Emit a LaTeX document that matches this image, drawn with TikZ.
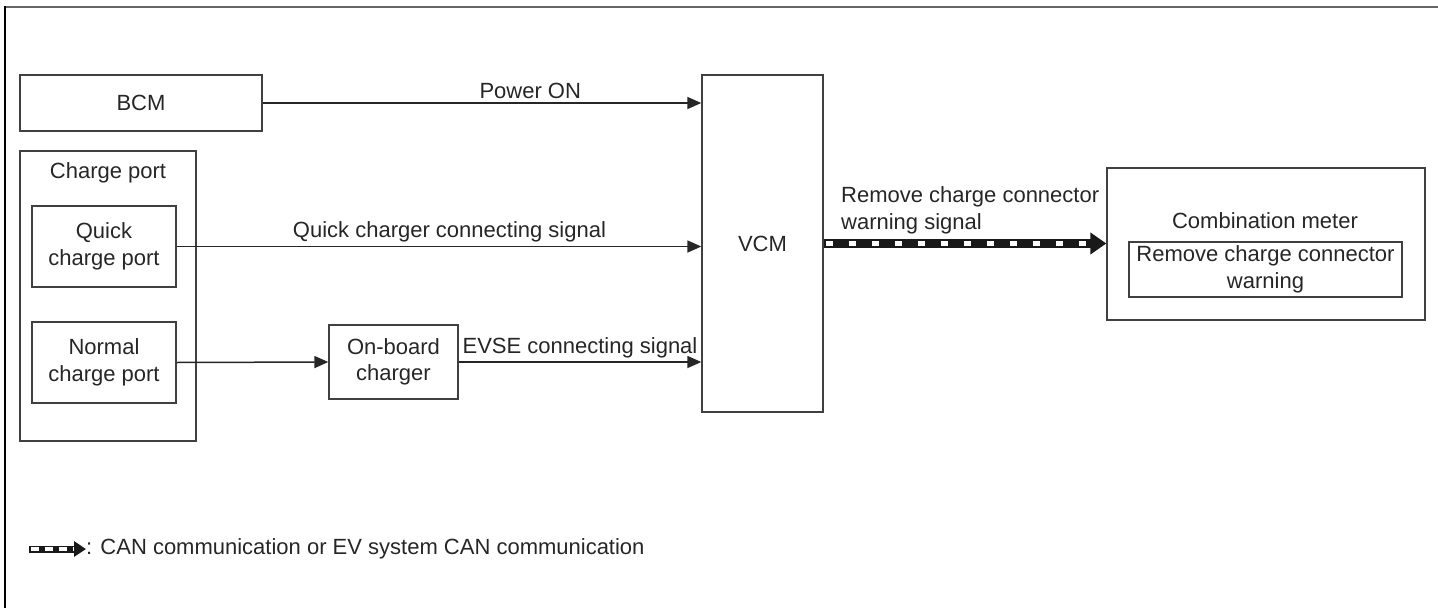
\documentclass[tikz,border=0pt]{standalone}
\usepackage{fontspec}
\setmainfont{Liberation Sans}
\usetikzlibrary{arrows.meta,positioning}

\tikzset{
  block/.style={draw=black!75, line width=1.3pt, align=center, inner sep=0pt},
  sig/.style={draw=black!85, line width=1.5pt, -{Triangle[length=14pt,width=12pt]}},
  can/.style={draw=black!90, line width=9pt, -{Triangle[length=16pt,width=21pt]},
    postaction={draw=white, line width=4.5pt, -, dash pattern=on 7pt off 16pt,
      shorten <=2pt, shorten >=18pt}},
  canlegend/.style={draw=black!90, line width=7pt, -{Triangle[length=12pt,width=15pt]},
    postaction={draw=white, line width=4pt, -, dash pattern=on 8pt off 6pt,
      shorten <=1.5pt, shorten >=13pt}},
}

\begin{document}
\begin{tikzpicture}[x=1pt, y=-1pt, text=black!85, font=\fontsize{22}{26.5}\selectfont]
  \useasboundingbox (0,0) rectangle (1438,608);

  % page frame
  \draw[black!60, line width=2pt] (5,7) -- (1438,7);
  \draw[black, line width=2.5pt] (5,6) -- (5,608);

  \node[block, minimum width=242pt, minimum height=56pt]  (bcm)     at (141,103)     {BCM};
  \node[block, minimum width=121pt, minimum height=337pt] (vcm)     at (762.5,243.5) {VCM};
  \node[block, minimum width=176pt, minimum height=290pt] (chgport) at (108,296)     {};
  \node (chgtitle) at (108,173) {Charge port};
  \node[block, minimum width=144pt, minimum height=81pt]  (quick)   at (104,246.5)   {Quick\\charge port};
  \node[block, minimum width=144pt, minimum height=81pt]  (normal)  at (104,362.5)   {Normal\\charge port};
  \node[block, minimum width=129pt, minimum height=74pt]  (obc)     at (393.5,362)   {On-board\\charger};
  \node[block, minimum width=318pt, minimum height=152pt] (meter)   at (1266,244)    {};
  \node (metertitle) at (1265,221) {Combination meter};
  \node[block, minimum width=273pt, minimum height=55pt]  (warn)    at (1265.5,269.5) {Remove charge connector\\warning};

  \draw[sig] (bcm.east) -- (bcm.east -| vcm.west)
    node[pos=0.61, above] {Power ON};
  \draw[sig] (quick.east) -- (quick.east -| vcm.west)
    node[pos=0.52, above] {Quick charger connecting signal};
  \draw[sig] (normal.east) -- (obc.west);
  \draw[sig] (obc.east) -- (obc.east -| vcm.west)
    node[pos=0.5, above] {EVSE connecting signal};
  \draw[can] (vcm.east) -- (vcm.east -| meter.west)
    node[pos=0, anchor=south west, align=left, inner xsep=0pt, xshift=13pt, yshift=2pt]
      {Remove charge connector\\warning signal};

  % legend
  \node[anchor=west, inner sep=0pt] (legtext) at (86,549)
    {: CAN communication or EV system CAN communication};
  \coordinate (legstart) at (29,549);
  \draw[canlegend] (legstart) -- (legtext.west);
\end{tikzpicture}
\end{document}
